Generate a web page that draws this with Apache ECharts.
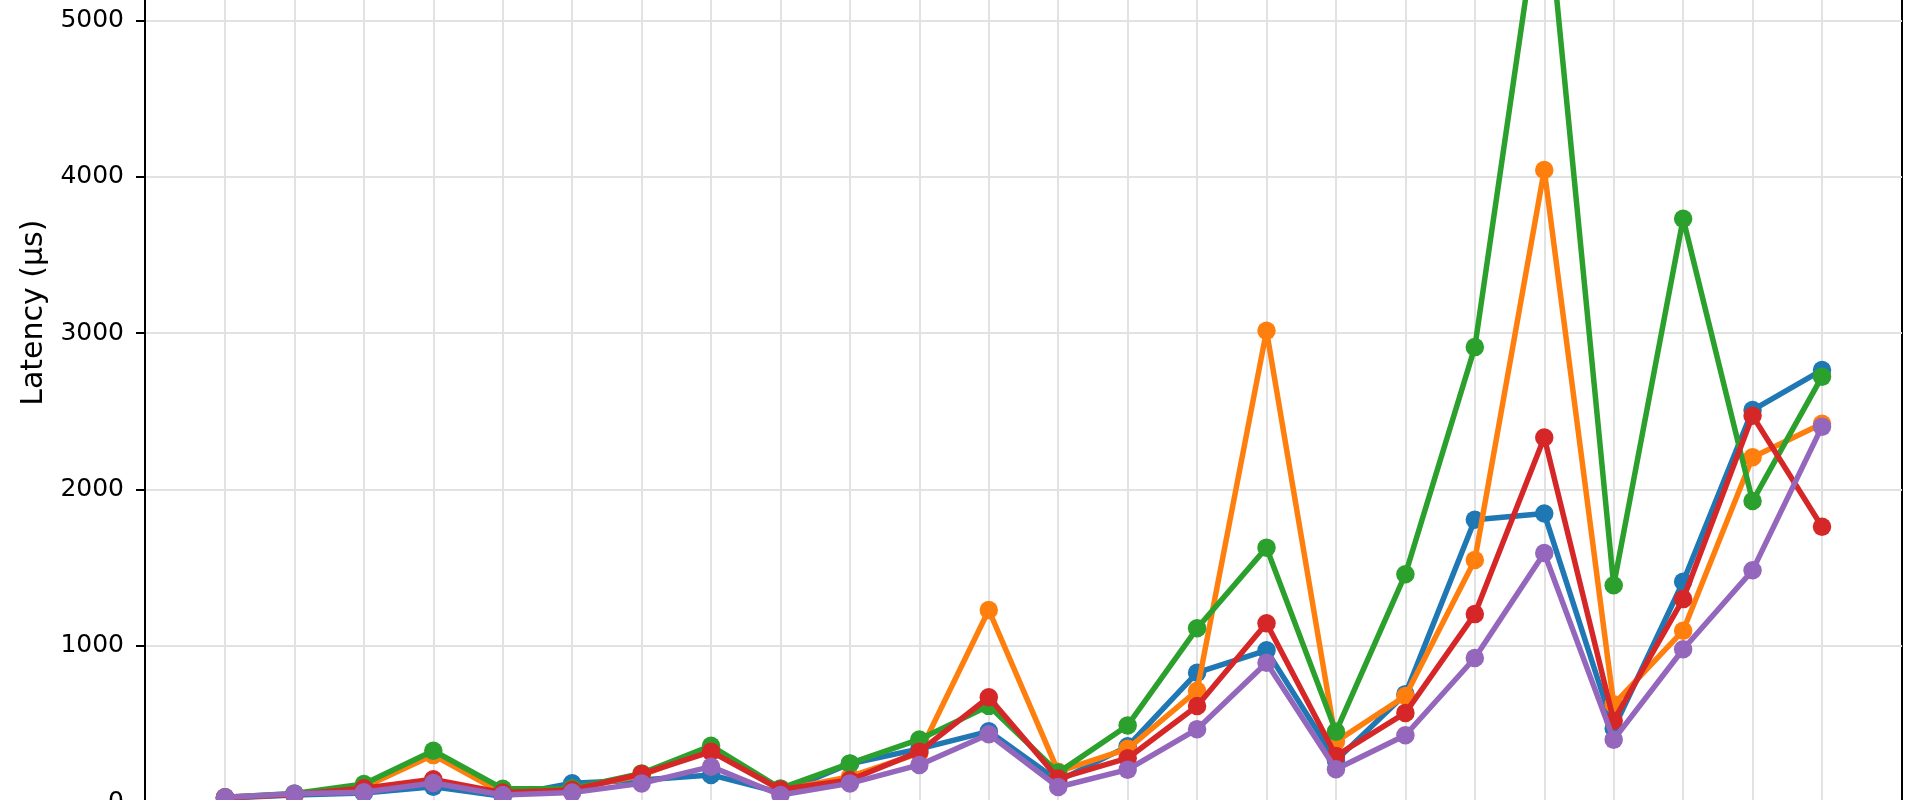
<!DOCTYPE html>
<html>
<head>
<meta charset="utf-8">
<script src="https://cdn.jsdelivr.net/npm/echarts@6/dist/echarts.min.js"></script>
<style>
html,body{margin:0;padding:0;background:#fff;}
#chart{width:1920px;height:800px;}
</style>
</head>
<body>
<div id="chart"></div>
<script>
// ---- data ----
const categories = ["1","2","3","4","5","6","7","8","9","10","11","12","13","14","15","16","17","18","19","20","21","22","23","24"];
const seriesNames = ["Series A","Series B","Series C","Series D","Series E"];
const blueValues   = [25, 45, 58, 98, 36, 120, 141, 173, 60, 245, 340, 452, 135, 356, 827, 970, 265, 690, 1806, 1845, 470, 1409, 2507, 2763];
const orangeValues = [30, 50, 95, 300, 55, 85, 170, 343, 75, 162, 313, 1228, 194, 340, 712, 3015, 386, 678, 1548, 4043, 625, 1096, 2205, 2420];
const greenValues  = [30, 55, 115, 328, 85, 87, 183, 360, 87, 247, 400, 615, 188, 490, 1111, 1627, 450, 1457, 2910, 5960, 1387, 3731, 1925, 2721];
const redValues    = [28, 48, 88, 145, 60, 77, 179, 322, 80, 141, 322, 670, 150, 280, 614, 1143, 295, 570, 1202, 2332, 520, 1298, 2471, 1761];
const purpleValues = [30, 52, 62, 122, 45, 60, 119, 226, 45, 119, 237, 433, 96, 207, 466, 891, 209, 427, 921, 1593, 399, 977, 1482, 2401];
const yTickValues = [0, 1000, 2000, 3000, 4000, 5000];
const yAxisTitle = "Latency (µs)";

// ---- styling ----
const colors = ["#1f77b4", "#ff7f0e", "#2ca02c", "#d62728", "#9467bd"];
const allValues = [blueValues, orangeValues, greenValues, redValues, purpleValues];
const Y_MIN = 0, Y_MAX = 6260;
const gridTop = -176.6, gridBottom = -2;
const font = "DejaVu Sans";

const chart = echarts.init(document.getElementById('chart'), null, {renderer: 'canvas'});
const option = {
  backgroundColor: '#ffffff',
  animation: false,
  grid: [
    {left: 145, right: 18, top: gridTop, bottom: gridBottom, show: true, borderColor: '#000', borderWidth: 2,
     backgroundColor: 'transparent', containLabel: false, outerBoundsMode: 'none'},
    {left: 225, right: 98, top: gridTop, bottom: gridBottom, show: false, containLabel: false, outerBoundsMode: 'none'}
  ],
  xAxis: [
    {gridIndex: 0, type: 'value', min: 0, max: 1, show: false},
    {gridIndex: 1, type: 'category', data: categories, boundaryGap: false,
     axisLine: {show: false}, axisTick: {show: false, interval: 0},
     axisLabel: {show: false, interval: 0},
     splitLine: {show: true, interval: 0, lineStyle: {color: '#e2e2e2', width: 2}}}
  ],
  yAxis: [
    {gridIndex: 0, type: 'value', min: Y_MIN, max: Y_MAX, interval: 1000,
     name: yAxisTitle, nameLocation: 'middle', nameGap: 95,
     nameTextStyle: {fontFamily: font, fontSize: 30, color: '#000'},
     axisLine: {show: true, lineStyle: {color: '#000', width: 2}},
     axisTick: {show: true, inside: false, length: 9, lineStyle: {color: '#000', width: 2}},
     axisLabel: {show: true, margin: 21, fontFamily: font, fontSize: 25, color: '#000',
       formatter: function (v) { return yTickValues.indexOf(v) >= 0 ? String(v) : ''; }},
     splitLine: {show: true, lineStyle: {color: '#e2e2e2', width: 2}}},
    {gridIndex: 1, type: 'value', min: Y_MIN, max: Y_MAX, show: false, splitLine: {show: false}}
  ],
  series: allValues.map(function (vals, i) {
    return {
      name: seriesNames[i], type: 'line', xAxisIndex: 1, yAxisIndex: 1,
      data: vals, symbol: 'circle', symbolSize: 18.5, showSymbol: true,
      clip: false,
      lineStyle: {color: colors[i], width: 5.5},
      itemStyle: {color: colors[i], borderWidth: 0},
      z: 2 + i
    };
  })
};
chart.setOption(option);
</script>
</body>
</html>
